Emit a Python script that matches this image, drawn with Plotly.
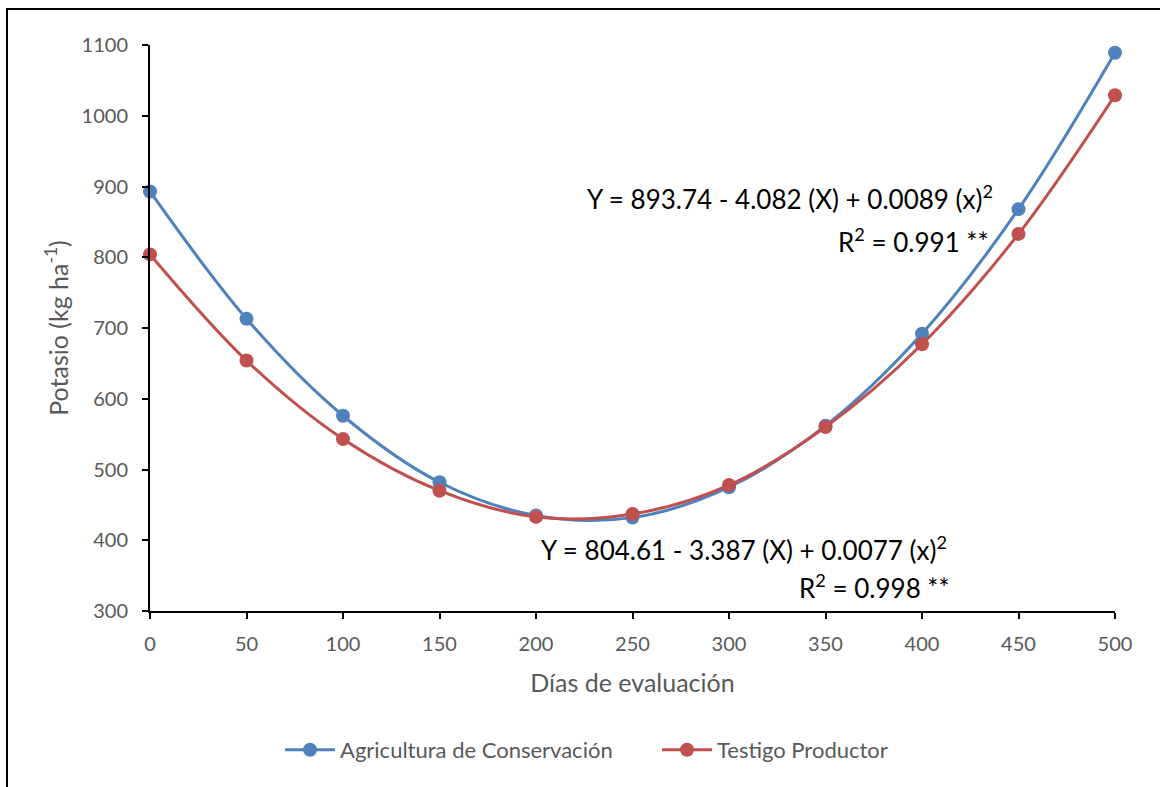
import plotly.graph_objects as go

dias = [0, 50, 100, 150, 200, 250, 300, 350, 400, 450, 500]
agricultura_conservacion = [893, 713, 576, 482, 435, 432, 475, 562, 692, 868, 1089]
testigo_productor = [804, 654, 543, 470, 433, 437, 478, 560, 677, 833, 1029]

BLUE = "#4F81BD"
RED = "#C0504D"
GREY = "#595959"
FONT = "Lato"

fig = go.Figure()
fig.add_trace(go.Scatter(
    x=dias, y=agricultura_conservacion, name="Agricultura de Conservación",
    mode="lines+markers", line=dict(color=BLUE, width=3, shape="spline", smoothing=1.0),
    marker=dict(color=BLUE, size=14), cliponaxis=False))
fig.add_trace(go.Scatter(
    x=dias, y=testigo_productor, name="Testigo Productor",
    mode="lines+markers", line=dict(color=RED, width=3, shape="spline", smoothing=1.0),
    marker=dict(color=RED, size=14), cliponaxis=False))

ann_font = dict(family=FONT, size=26, color="black")
fig.add_annotation(x=438, y=884, xref="x", yref="y", xanchor="right", yanchor="middle",
                   text="Y = 893.74 - 4.082 (X) + 0.0089 (x)<sup>2</sup>", showarrow=False, font=ann_font)
fig.add_annotation(x=435, y=824, xref="x", yref="y", xanchor="right", yanchor="middle",
                   text="R<sup>2</sup> = 0.991 **", showarrow=False, font=ann_font)
fig.add_annotation(x=414, y=388, xref="x", yref="y", xanchor="right", yanchor="middle",
                   text="Y = 804.61 - 3.387 (X) + 0.0077 (x)<sup>2</sup>", showarrow=False, font=ann_font)
fig.add_annotation(x=415, y=334, xref="x", yref="y", xanchor="right", yanchor="middle",
                   text="R<sup>2</sup> = 0.998 **", showarrow=False, font=ann_font)

# outer chart frame
fig.add_shape(type="rect", xref="paper", yref="paper",
              x0=-0.1482, x1=1.06, y0=-0.34, y1=1.0636,
              line=dict(color="black", width=2), fillcolor="rgba(0,0,0,0)", layer="below")

fig.update_layout(
    width=1160, height=787,
    margin=dict(l=150, r=45, t=45, b=176, autoexpand=False),
    paper_bgcolor="white", plot_bgcolor="white",
    font=dict(family=FONT, size=20, color=GREY),
    showlegend=True,
    legend=dict(orientation="h", x=(280 - 150) / 965, xanchor="left", y=-0.2456, yanchor="middle",
                font=dict(family=FONT, size=22, color=GREY), itemwidth=50,
                entrywidth=312, entrywidthmode="pixels"),
    xaxis=dict(range=[0, 500], tickmode="array", tickvals=dias, ticks="outside", ticklen=6,
               tickwidth=2, tickcolor="black", showline=True, linecolor="black", linewidth=2,
               showgrid=False, zeroline=False, ticklabelstandoff=8,
               title=dict(text="Días de evaluación", font=dict(family=FONT, size=25, color=GREY), standoff=20),
               tickfont=dict(family=FONT, size=20, color=GREY)),
    yaxis=dict(range=[300, 1100], dtick=100, ticks="outside", ticklen=6,
               tickwidth=2, tickcolor="black", showline=True, linecolor="black", linewidth=2,
               showgrid=False, zeroline=False, ticklabelstandoff=10,
               title=dict(text="Potasio (kg ha<sup>-1</sup>)", font=dict(family=FONT, size=25, color=GREY), standoff=6),
               tickfont=dict(family=FONT, size=20, color=GREY)),
)

fig.write_html("out.html")
